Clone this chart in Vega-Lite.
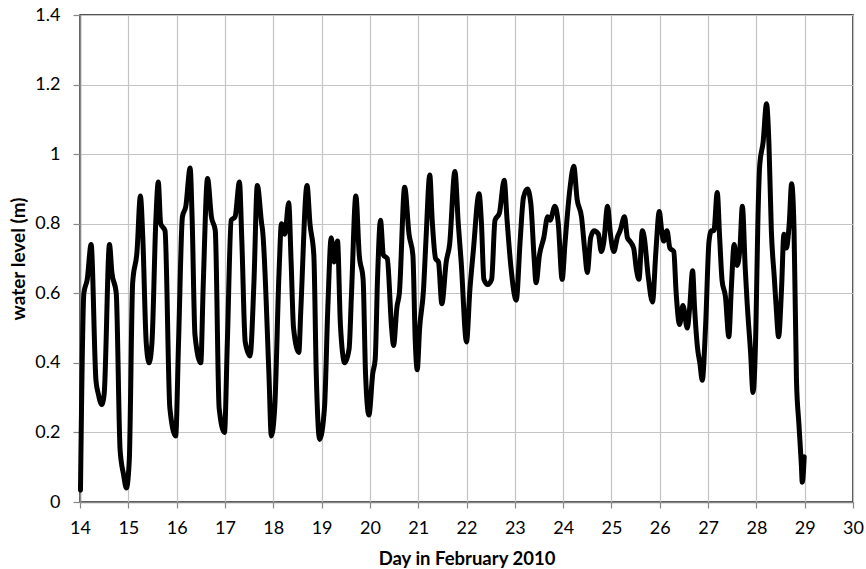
{
  "$schema": "https://vega.github.io/schema/vega-lite/v6.json",
  "width": 773,
  "height": 487,
  "autosize": {"type": "none"},
  "padding": {"left": 80, "top": 15, "right": 13, "bottom": 67},
  "background": "white",
  "config": {
    "view": {"stroke": "#1a1a1a", "strokeWidth": 1.5},
    "font": "Lato"
  },
  "data": {
    "values": [
      {"day": 14.01, "level": 0.034}, {"day": 14.08, "level": 0.6}, {"day": 14.15, "level": 0.64}, {"day": 14.23, "level": 0.74},
      {"day": 14.33, "level": 0.35}, {"day": 14.38, "level": 0.31}, {"day": 14.45, "level": 0.28}, {"day": 14.5, "level": 0.31},
      {"day": 14.61, "level": 0.74}, {"day": 14.66, "level": 0.66}, {"day": 14.75, "level": 0.6}, {"day": 14.83, "level": 0.15},
      {"day": 14.9, "level": 0.08}, {"day": 14.96, "level": 0.04}, {"day": 15.02, "level": 0.12}, {"day": 15.09, "level": 0.63},
      {"day": 15.18, "level": 0.72}, {"day": 15.25, "level": 0.88}, {"day": 15.3, "level": 0.76}, {"day": 15.37, "level": 0.46},
      {"day": 15.43, "level": 0.4}, {"day": 15.49, "level": 0.46}, {"day": 15.57, "level": 0.81}, {"day": 15.62, "level": 0.92},
      {"day": 15.67, "level": 0.8}, {"day": 15.76, "level": 0.78}, {"day": 15.86, "level": 0.27}, {"day": 15.98, "level": 0.19},
      {"day": 16.04, "level": 0.46}, {"day": 16.12, "level": 0.82}, {"day": 16.19, "level": 0.85}, {"day": 16.28, "level": 0.96},
      {"day": 16.32, "level": 0.82}, {"day": 16.38, "level": 0.48}, {"day": 16.5, "level": 0.4}, {"day": 16.55, "level": 0.62},
      {"day": 16.64, "level": 0.93}, {"day": 16.72, "level": 0.82}, {"day": 16.8, "level": 0.78}, {"day": 16.88, "level": 0.27},
      {"day": 16.99, "level": 0.2}, {"day": 17.05, "level": 0.46}, {"day": 17.13, "level": 0.81}, {"day": 17.21, "level": 0.82},
      {"day": 17.3, "level": 0.92}, {"day": 17.35, "level": 0.75}, {"day": 17.42, "level": 0.46}, {"day": 17.52, "level": 0.42},
      {"day": 17.6, "level": 0.63}, {"day": 17.67, "level": 0.91}, {"day": 17.76, "level": 0.8}, {"day": 17.78, "level": 0.78},
      {"day": 17.91, "level": 0.37}, {"day": 17.96, "level": 0.19}, {"day": 18.03, "level": 0.27}, {"day": 18.12, "level": 0.66},
      {"day": 18.17, "level": 0.8}, {"day": 18.24, "level": 0.77}, {"day": 18.32, "level": 0.86}, {"day": 18.37, "level": 0.69},
      {"day": 18.42, "level": 0.5}, {"day": 18.53, "level": 0.43}, {"day": 18.57, "level": 0.55}, {"day": 18.7, "level": 0.91},
      {"day": 18.76, "level": 0.8}, {"day": 18.84, "level": 0.71}, {"day": 18.89, "level": 0.37}, {"day": 18.96, "level": 0.18},
      {"day": 19.06, "level": 0.27}, {"day": 19.13, "level": 0.56}, {"day": 19.2, "level": 0.76}, {"day": 19.26, "level": 0.69},
      {"day": 19.33, "level": 0.75}, {"day": 19.39, "level": 0.51}, {"day": 19.48, "level": 0.4}, {"day": 19.57, "level": 0.44},
      {"day": 19.62, "level": 0.6}, {"day": 19.71, "level": 0.88}, {"day": 19.78, "level": 0.71}, {"day": 19.86, "level": 0.64},
      {"day": 19.91, "level": 0.37}, {"day": 19.98, "level": 0.25}, {"day": 20.06, "level": 0.37}, {"day": 20.11, "level": 0.41},
      {"day": 20.16, "level": 0.65}, {"day": 20.22, "level": 0.81}, {"day": 20.28, "level": 0.71}, {"day": 20.36, "level": 0.7},
      {"day": 20.45, "level": 0.5}, {"day": 20.49, "level": 0.45}, {"day": 20.56, "level": 0.56}, {"day": 20.61, "level": 0.6},
      {"day": 20.72, "level": 0.905}, {"day": 20.81, "level": 0.77}, {"day": 20.89, "level": 0.71}, {"day": 20.94, "level": 0.46},
      {"day": 20.98, "level": 0.38}, {"day": 21.03, "level": 0.5}, {"day": 21.11, "level": 0.61}, {"day": 21.16, "level": 0.75},
      {"day": 21.24, "level": 0.94}, {"day": 21.29, "level": 0.81}, {"day": 21.36, "level": 0.7}, {"day": 21.42, "level": 0.69},
      {"day": 21.49, "level": 0.57}, {"day": 21.58, "level": 0.69}, {"day": 21.65, "level": 0.74}, {"day": 21.76, "level": 0.95},
      {"day": 21.83, "level": 0.8}, {"day": 21.89, "level": 0.69}, {"day": 22.0, "level": 0.46}, {"day": 22.07, "level": 0.61},
      {"day": 22.14, "level": 0.72}, {"day": 22.26, "level": 0.886}, {"day": 22.31, "level": 0.8}, {"day": 22.36, "level": 0.64},
      {"day": 22.44, "level": 0.625}, {"day": 22.52, "level": 0.64}, {"day": 22.59, "level": 0.81}, {"day": 22.68, "level": 0.83},
      {"day": 22.78, "level": 0.925}, {"day": 22.84, "level": 0.81}, {"day": 22.92, "level": 0.675}, {"day": 23.03, "level": 0.58},
      {"day": 23.11, "level": 0.75}, {"day": 23.18, "level": 0.876}, {"day": 23.26, "level": 0.9}, {"day": 23.33, "level": 0.86},
      {"day": 23.4, "level": 0.7}, {"day": 23.44, "level": 0.63}, {"day": 23.51, "level": 0.71}, {"day": 23.6, "level": 0.76},
      {"day": 23.68, "level": 0.82}, {"day": 23.73, "level": 0.81}, {"day": 23.83, "level": 0.85}, {"day": 23.9, "level": 0.8},
      {"day": 23.98, "level": 0.64}, {"day": 24.04, "level": 0.745}, {"day": 24.14, "level": 0.9}, {"day": 24.22, "level": 0.965},
      {"day": 24.29, "level": 0.87}, {"day": 24.38, "level": 0.82}, {"day": 24.45, "level": 0.72}, {"day": 24.5, "level": 0.66},
      {"day": 24.57, "level": 0.76}, {"day": 24.64, "level": 0.78}, {"day": 24.73, "level": 0.77}, {"day": 24.79, "level": 0.72},
      {"day": 24.84, "level": 0.745}, {"day": 24.92, "level": 0.85}, {"day": 24.98, "level": 0.77}, {"day": 25.05, "level": 0.72},
      {"day": 25.12, "level": 0.76}, {"day": 25.18, "level": 0.78}, {"day": 25.27, "level": 0.82}, {"day": 25.33, "level": 0.76},
      {"day": 25.38, "level": 0.75}, {"day": 25.46, "level": 0.73}, {"day": 25.52, "level": 0.665}, {"day": 25.57, "level": 0.64},
      {"day": 25.64, "level": 0.78}, {"day": 25.68, "level": 0.76}, {"day": 25.76, "level": 0.65}, {"day": 25.85, "level": 0.575},
      {"day": 25.92, "level": 0.72}, {"day": 25.99, "level": 0.835}, {"day": 26.04, "level": 0.78}, {"day": 26.08, "level": 0.75},
      {"day": 26.15, "level": 0.78}, {"day": 26.21, "level": 0.73}, {"day": 26.29, "level": 0.72}, {"day": 26.34, "level": 0.6},
      {"day": 26.41, "level": 0.51}, {"day": 26.48, "level": 0.565}, {"day": 26.57, "level": 0.5}, {"day": 26.62, "level": 0.56},
      {"day": 26.68, "level": 0.665}, {"day": 26.72, "level": 0.56}, {"day": 26.78, "level": 0.445}, {"day": 26.83, "level": 0.4},
      {"day": 26.88, "level": 0.35}, {"day": 26.95, "level": 0.51}, {"day": 27.02, "level": 0.75}, {"day": 27.07, "level": 0.78},
      {"day": 27.12, "level": 0.78}, {"day": 27.19, "level": 0.89}, {"day": 27.24, "level": 0.76}, {"day": 27.29, "level": 0.637},
      {"day": 27.36, "level": 0.59}, {"day": 27.43, "level": 0.475}, {"day": 27.48, "level": 0.61}, {"day": 27.54, "level": 0.74},
      {"day": 27.6, "level": 0.68}, {"day": 27.66, "level": 0.73}, {"day": 27.71, "level": 0.85}, {"day": 27.77, "level": 0.67},
      {"day": 27.81, "level": 0.57}, {"day": 27.88, "level": 0.43}, {"day": 27.93, "level": 0.315}, {"day": 27.99, "level": 0.5},
      {"day": 28.03, "level": 0.8}, {"day": 28.07, "level": 0.97}, {"day": 28.14, "level": 1.035}, {"day": 28.21, "level": 1.145},
      {"day": 28.26, "level": 1.03}, {"day": 28.31, "level": 0.78}, {"day": 28.37, "level": 0.647}, {"day": 28.41, "level": 0.56},
      {"day": 28.46, "level": 0.475}, {"day": 28.52, "level": 0.61}, {"day": 28.57, "level": 0.77}, {"day": 28.62, "level": 0.73},
      {"day": 28.68, "level": 0.8}, {"day": 28.73, "level": 0.915}, {"day": 28.78, "level": 0.78}, {"day": 28.83, "level": 0.35},
      {"day": 28.88, "level": 0.225}, {"day": 28.93, "level": 0.11}, {"day": 28.95, "level": 0.057}, {"day": 28.99, "level": 0.13}
    ]
  },
  "mark": {"type": "line", "color": "black", "strokeWidth": 5, "interpolate": "monotone", "strokeJoin": "round", "strokeCap": "round"},
  "encoding": {
    "x": {
      "field": "day", "type": "quantitative",
      "scale": {"domain": [14, 30], "nice": false, "zero": false},
      "axis": {
        "title": "Day in February 2010",
        "values": [14,15,16,17,18,19,20,21,22,23,24,25,26,27,28,29,30],
        "format": "d",
        "grid": true, "gridColor": "#c4c4c4", "gridWidth": 1.2,
        "domainColor": "#888888", "domainWidth": 1.5,
        "tickColor": "#888888", "tickSize": 6, "tickWidth": 1.2,
        "labelFont": "Lato", "labelFontSize": 18, "labelColor": "#000000", "labelPadding": 11,
        "labelFlush": false, "labelOverlap": false,
        "titleFont": "Lato", "titleFontSize": 18.5, "titleFontWeight": "bold", "titleColor": "#000000", "titlePadding": 12
      }
    },
    "y": {
      "field": "level", "type": "quantitative",
      "scale": {"domain": [0, 1.4], "nice": false},
      "axis": {
        "title": "water level (m)",
        "values": [0, 0.2, 0.4, 0.6, 0.8, 1, 1.2, 1.4],
        "format": "~g",
        "grid": true, "gridColor": "#c4c4c4", "gridWidth": 1.2,
        "domainColor": "#888888", "domainWidth": 1.5,
        "tickColor": "#888888", "tickSize": 7, "tickWidth": 1.2,
        "labelFont": "Lato", "labelFontSize": 18, "labelColor": "#000000", "labelPadding": 13,
        "labelFlush": false, "labelOverlap": false,
        "titleFont": "Lato", "titleFontSize": 19, "titleFontWeight": "bold", "titleColor": "#000000", "titlePadding": 6
      }
    }
  }
}
